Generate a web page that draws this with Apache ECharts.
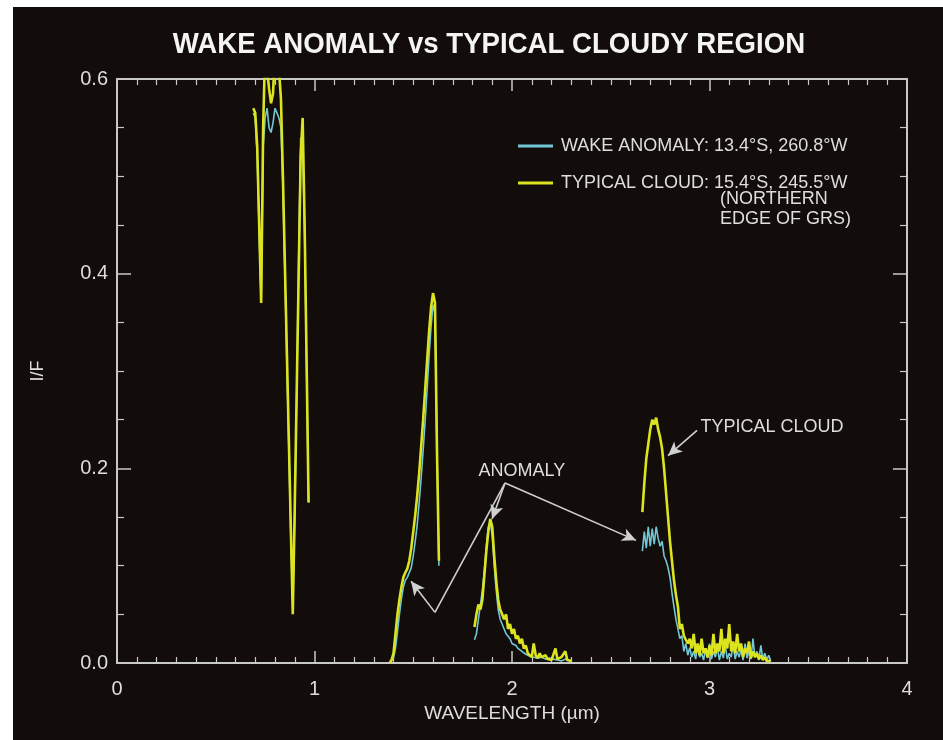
<!DOCTYPE html>
<html><head><meta charset="utf-8">
<script src="https://cdn.jsdelivr.net/npm/echarts/dist/echarts.min.js"></script>
<style>html,body{margin:0;padding:0;background:#ffffff;}#c{width:943px;height:740px;}</style>
</head><body><div id="c"></div>
<script>
// ---- data (wavelength in µm, I/F) ----
const xTicks = [0, 1, 2, 3, 4];
const yTicks = [0.0, 0.2, 0.4, 0.6];

const seg1X = [0.69,0.70,0.71,0.72,0.73,0.74,0.75,0.76,0.77,0.78,0.79,0.80,0.81,0.82,0.83,0.84,0.85,0.86,0.87,0.88,0.89,0.90,0.91,0.92,0.93,0.94,0.95,0.96,0.97];
const wake1  = [0.565,0.56,0.52,0.44,0.37,0.53,0.56,0.57,0.55,0.545,0.555,0.57,0.565,0.56,0.55,0.49,0.40,0.31,0.22,0.13,0.055,0.15,0.28,0.42,0.54,0.53,0.44,0.30,0.165];
const cloud1 = [0.57,0.565,0.53,0.45,0.37,0.55,0.63,0.63,0.59,0.575,0.585,0.63,0.63,0.61,0.58,0.50,0.41,0.32,0.23,0.14,0.05,0.16,0.28,0.40,0.52,0.56,0.45,0.31,0.165];

const seg2X = [1.38,1.39,1.40,1.41,1.42,1.43,1.44,1.45,1.46,1.47,1.48,1.49,1.50,1.51,1.52,1.53,1.54,1.55,1.56,1.57,1.58,1.59,1.60,1.61,1.62,1.63];
const wake2  = [0.0,0.002,0.005,0.015,0.032,0.05,0.066,0.078,0.085,0.088,0.09,0.098,0.11,0.125,0.142,0.165,0.19,0.218,0.248,0.28,0.315,0.345,0.368,0.36,0.22,0.10];
const cloud2 = [0.0,0.003,0.01,0.03,0.05,0.065,0.078,0.088,0.093,0.097,0.105,0.118,0.135,0.152,0.172,0.195,0.222,0.25,0.28,0.31,0.34,0.365,0.38,0.37,0.22,0.105];

const seg3X = [1.81,1.82,1.83,1.84,1.85,1.86,1.87,1.88,1.89,1.90,1.91,1.92,1.93,1.94,1.95,1.96,1.97,1.98,1.99,2.00,2.01,2.02,2.03,2.04,2.05,2.06,2.07,2.08,2.09,2.10,2.11,2.12,2.13,2.14,2.15,2.16,2.17,2.18,2.19,2.20,2.21,2.22,2.23,2.24,2.25,2.26,2.27,2.28,2.29,2.30];
const wake3  = [0.024,0.03,0.045,0.06,0.075,0.095,0.12,0.14,0.145,0.13,0.1,0.075,0.055,0.045,0.04,0.035,0.03,0.028,0.025,0.02,0.02,0.018,0.015,0.013,0.012,0.01,0.009,0.008,0.007,0.006,0.006,0.005,0.005,0.004,0.006,0.004,0.004,0.003,0.005,0.003,0.004,0.003,0.003,0.004,0.002,0.003,0.004,0.002,0.003,0.002];
const cloud3 = [0.037,0.05,0.06,0.055,0.065,0.09,0.115,0.135,0.148,0.14,0.11,0.085,0.065,0.055,0.05,0.045,0.05,0.035,0.04,0.03,0.035,0.025,0.028,0.02,0.025,0.015,0.018,0.01,0.012,0.006,0.02,0.008,0.005,0.01,0.006,0.004,0.008,0.004,0.006,0.003,0.005,0.015,0.004,0.003,0.006,0.004,0.012,0.003,0.004,0.002];

const seg4X = [2.66,2.67,2.68,2.69,2.70,2.71,2.72,2.73,2.74,2.75,2.76,2.77,2.78,2.79,2.80,2.81,2.82,2.83,2.84,2.85,2.86,2.87,2.88,2.89,2.90,2.91,2.92,2.93,2.94,2.95,2.96,2.97,2.98,2.99,3.00,3.01,3.02,3.03,3.04,3.05,3.06,3.07,3.08,3.09,3.10,3.11,3.12,3.13,3.14,3.15,3.16,3.17,3.18,3.19,3.20,3.21,3.22,3.23,3.24,3.25,3.26,3.27,3.28,3.29,3.30,3.31];
const wake4  = [0.115,0.135,0.118,0.14,0.12,0.138,0.122,0.14,0.128,0.12,0.125,0.11,0.105,0.098,0.088,0.072,0.058,0.045,0.035,0.025,0.028,0.012,0.02,0.008,0.016,0.006,0.012,0.004,0.018,0.006,0.01,0.003,0.014,0.005,0.02,0.004,0.012,0.006,0.016,0.003,0.012,0.005,0.018,0.004,0.01,0.006,0.02,0.004,0.012,0.006,0.014,0.003,0.02,0.005,0.012,0.004,0.025,0.006,0.012,0.003,0.018,0.004,0.01,0.003,0.008,0.002];
const cloud4 = [0.155,0.185,0.21,0.225,0.24,0.25,0.245,0.252,0.24,0.232,0.22,0.2,0.175,0.15,0.125,0.105,0.085,0.07,0.058,0.035,0.04,0.028,0.03,0.02,0.025,0.015,0.03,0.01,0.02,0.008,0.025,0.01,0.015,0.006,0.018,0.008,0.03,0.01,0.02,0.012,0.035,0.01,0.025,0.015,0.04,0.012,0.022,0.01,0.03,0.012,0.02,0.006,0.015,0.01,0.022,0.005,0.012,0.006,0.01,0.004,0.008,0.003,0.006,0.002,0.004,0.002];

const seriesNames = ['WAKE ANOMALY: 13.4°S, 260.8°W', 'TYPICAL CLOUD: 15.4°S, 245.5°W'];
const legendExtra = '(NORTHERN\nEDGE OF GRS)';

// annotation anchors in data units [µm, I/F]
const anomalyHub = [1.965, 0.185];
const anomalyBend = [1.61, 0.052];
const anomalyTargets = [[1.489, 0.084], [1.899, 0.148], [2.628, 0.126]];
const cloudArrow = [[2.937, 0.239], [2.79, 0.213]];
const anomalyLabelAt = [2.05, 0.197];
const cloudLabelAt = [2.952, 0.2425];

// ---- build ----
function pairs(segs) {
  const out = [];
  segs.forEach(function (s, i) {
    if (i > 0) out.push([s[0][0] - 0.001, '-']);
    s[0].forEach(function (x, j) { out.push([x, s[1][j]]); });
  });
  return out;
}
const wakeData = pairs([[seg1X, wake1], [seg2X, wake2], [seg3X, wake3], [seg4X, wake4]]);
const cloudData = pairs([[seg1X, cloud1], [seg2X, cloud2], [seg3X, cloud3], [seg4X, cloud4]]);

const FONT = "'Liberation Sans', Arial, Helvetica, sans-serif";
const AX = '#c8c8c8';
const TXT = '#dedede';
const CYAN = '#72c6d6';
const YEL = '#dbe41e';

const chart = echarts.init(document.getElementById('c'), null, { renderer: 'canvas' });

function xAxisCfg(pos) {
  const bottom = pos === 'bottom';
  return {
    type: 'value', position: pos, min: xTicks[0], max: xTicks[xTicks.length - 1], interval: 1,
    name: bottom ? 'WAVELENGTH (µm)' : '', nameLocation: 'middle', nameGap: 40,
    nameTextStyle: { color: TXT, fontFamily: FONT, fontSize: 19 },
    axisLine: { show: true, onZero: false, lineStyle: { color: AX, width: 2 } },
    axisTick: { show: true, inside: true, length: 12, lineStyle: { color: AX, width: 1.5 } },
    minorTick: { show: true, splitNumber: 10, length: 6, lineStyle: { color: AX, width: 1.2 } },
    splitLine: { show: false }, minorSplitLine: { show: false },
    axisLabel: { show: bottom, color: TXT, fontFamily: FONT, fontSize: 20, margin: 16 }
  };
}
function yAxisCfg(pos) {
  const left = pos === 'left';
  return {
    type: 'value', position: pos, min: yTicks[0], max: yTicks[yTicks.length - 1], interval: 0.2,
    name: left ? 'I/F' : '', nameLocation: 'middle', nameGap: 70, nameRotate: 90,
    nameTextStyle: { color: TXT, fontFamily: FONT, fontSize: 18 },
    axisLine: { show: true, onZero: false, lineStyle: { color: AX, width: 2 } },
    axisTick: { show: true, inside: true, length: 14, lineStyle: { color: AX, width: 1.5 } },
    minorTick: { show: true, splitNumber: 4, length: 7, lineStyle: { color: AX, width: 1.2 } },
    splitLine: { show: false }, minorSplitLine: { show: false },
    axisLabel: { show: left, color: TXT, fontFamily: FONT, fontSize: 20, margin: 9,
      formatter: function (v) { return v.toFixed(1); } }
  };
}

function seg(a, b, arrow) {
  return [
    { coord: a, symbol: 'none' },
    { coord: b, symbol: arrow ? 'arrow' : 'none', symbolSize: [10, 14] }
  ];
}

chart.setOption({
  animation: false,
  backgroundColor: '#120d0a',
  textStyle: { fontFamily: FONT },
  grid: { left: 117, right: 36, top: 79, bottom: 77, containLabel: false },
  xAxis: [xAxisCfg('bottom'), xAxisCfg('top')],
  yAxis: [yAxisCfg('left'), yAxisCfg('right')],
  legend: {
    show: true, orient: 'vertical', left: 513, top: 131,
    icon: 'rect', itemWidth: 35, itemHeight: 3, itemGap: 17,
    data: seriesNames,
    textStyle: { color: TXT, fontFamily: FONT, fontSize: 18, lineHeight: 20, padding: [0, 0, 0, 3] },
    selectedMode: false
  },
  series: [
    {
      name: seriesNames[0], type: 'line', xAxisIndex: 0, yAxisIndex: 0,
      data: wakeData, showSymbol: false, symbol: 'none', connectNulls: false, clip: true,
      color: CYAN, lineStyle: { color: CYAN, width: 1.6 }, itemStyle: { color: CYAN }, z: 2
    },
    {
      name: seriesNames[1], type: 'line', xAxisIndex: 0, yAxisIndex: 0,
      data: cloudData, showSymbol: false, symbol: 'none', connectNulls: false, clip: true,
      color: YEL, lineStyle: { color: YEL, width: 2.6 }, itemStyle: { color: YEL }, z: 3,
      markLine: {
        silent: true, symbol: ['none', 'arrow'],
        label: { show: false },
        lineStyle: { color: '#d0d0d0', width: 1.6, type: 'solid' },
        itemStyle: { color: '#f2f2f2' },
        data: [
          seg(anomalyHub, anomalyBend, false),
          seg(anomalyBend, anomalyTargets[0], true),
          seg(anomalyHub, anomalyTargets[1], true),
          seg(anomalyHub, anomalyTargets[2], true),
          seg(cloudArrow[0], cloudArrow[1], true)
        ]
      },
      markPoint: {
        silent: true, symbol: 'circle', symbolSize: 1,
        itemStyle: { color: 'rgba(0,0,0,0)' },
        data: [
          { coord: anomalyLabelAt, label: { show: true, formatter: 'ANOMALY', position: 'inside', color: TXT, fontFamily: FONT, fontSize: 18 } },
          { coord: cloudLabelAt, label: { show: true, formatter: 'TYPICAL CLOUD', position: 'right', distance: 0, color: TXT, fontFamily: FONT, fontSize: 18 } }
        ]
      }
    }
  ],
  graphic: [
    { type: 'rect', left: 0, top: 0, shape: { width: 13, height: 740 }, style: { fill: '#ffffff' }, silent: true },
    { type: 'rect', left: 0, top: 0, shape: { width: 943, height: 7 }, style: { fill: '#ffffff' }, silent: true },
    { type: 'text', x: 489, y: 45, scaleX: 0.92, silent: true,
      style: { text: 'WAKE ANOMALY vs TYPICAL CLOUDY REGION', fill: '#f4f4f4',
        font: "bold 30px 'Liberation Sans', Arial, sans-serif", textAlign: 'center', textVerticalAlign: 'middle' } },
    { type: 'text', x: 720, y: 189, silent: true,
      style: { text: legendExtra, fill: TXT, font: "18px 'Liberation Sans', Arial, sans-serif", lineHeight: 20 } }
  ]
});
</script></body></html>
